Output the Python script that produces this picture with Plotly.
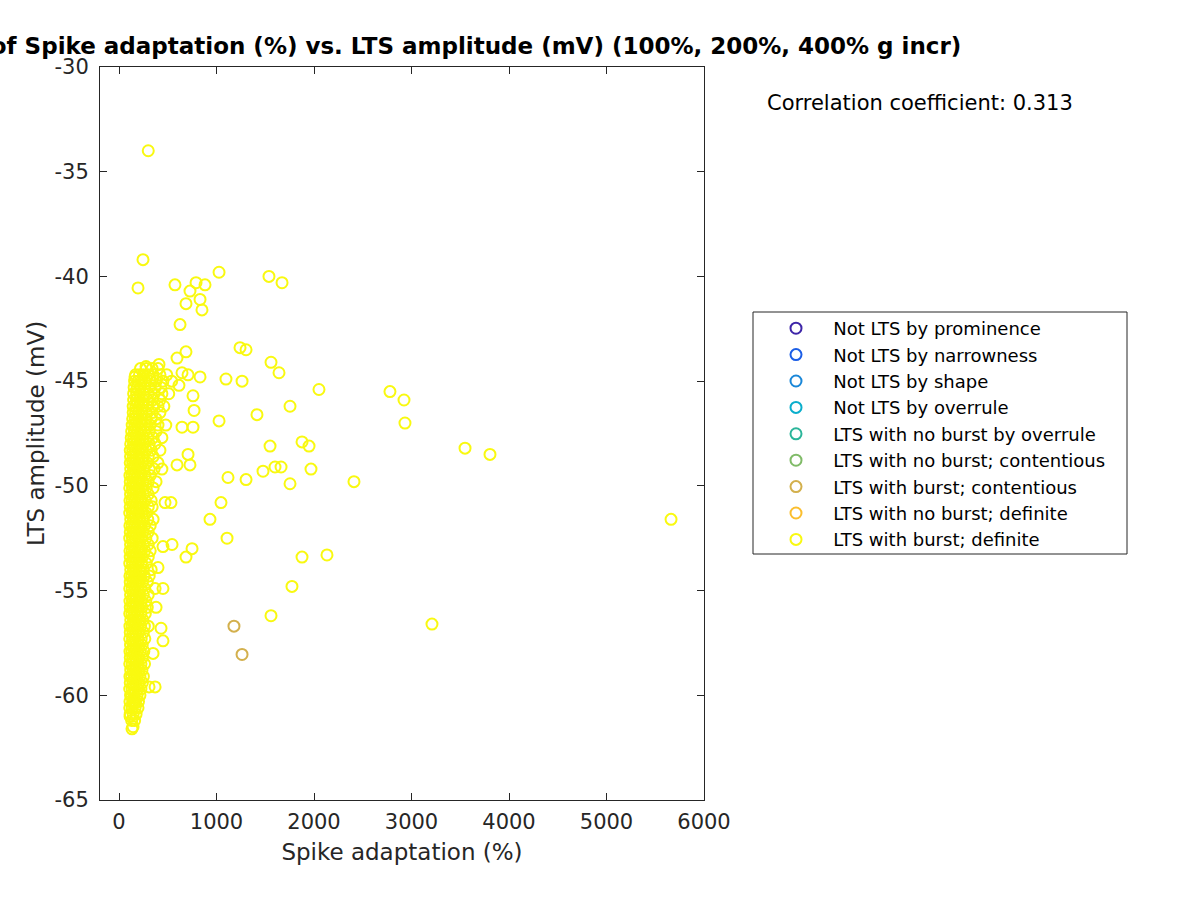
import plotly.graph_objects as go

# ---------------- data ----------------
categories = [
    "Not LTS by prominence",
    "Not LTS by narrowness",
    "Not LTS by shape",
    "Not LTS by overrule",
    "LTS with no burst by overrule",
    "LTS with no burst; contentious",
    "LTS with burst; contentious",
    "LTS with no burst; definite",
    "LTS with burst; definite",
]
category_colors = [
    "#3e26a8", "#1c5ee6", "#1a87d8", "#0aaecc", "#2bb59a",
    "#80bb68", "#d3b04d", "#fbbe2e", "#f9f910",
]

# LTS with burst; contentious
contentious_burst_x = [1179, 1262]
contentious_burst_y = [-56.7, -58.05]

# LTS with burst; definite -- scattered outliers
outlier_x = [300, 246, 195, 574, 1026, 790, 882, 728, 687, 831, 851, 626, 687, 595,
             1241, 1303, 1538, 1672, 1559, 1641, 1262, 1097, 2051, 2779, 2923, 1754,
             1415, 1026, 2933, 1549, 1877, 1949, 1969, 1600, 1662, 1477, 1118, 1303,
             1754, 2410, 3549, 3805, 1046, 933, 5662, 1108, 544, 749, 687, 1877, 2133,
             1774, 3210, 1559]
outlier_y = [-34.0, -39.2, -40.55, -40.4, -39.8, -40.3, -40.4, -40.7, -41.3, -41.1,
             -41.6, -42.3, -43.6, -43.9, -43.4, -43.5, -40.0, -40.3, -44.1, -44.6,
             -45.0, -44.9, -45.4, -45.5, -45.9, -46.2, -46.6, -46.9, -47.0, -48.1,
             -47.9, -48.1, -49.2, -49.1, -49.1, -49.3, -49.6, -49.7, -49.9, -49.8,
             -48.2, -48.5, -50.8, -51.6, -51.6, -52.5, -52.8, -53.0, -53.4, -53.4,
             -53.3, -54.8, -56.6, -56.2]

# points just outside the dense band
near_x = [831, 708, 646, 615, 759, 770, 646, 759, 708, 728, 595, 533, 472, 451,
          400, 451, 370, 380, 431, 451, 349, 370, 308, 410, 277, 164, 133, 144, 113]
near_y = [-44.8, -44.7, -44.6, -45.2, -45.7, -46.4, -47.2, -47.2, -48.5, -49.0,
          -49.0, -50.8, -50.8, -52.9, -53.9, -54.9, -54.9, -55.8, -56.8, -57.4,
          -58.0, -59.6, -59.6, -44.2, -44.3, -44.8, -61.6, -61.5, -61.0]

# dense band: amplitude levels and the adaptation values read at each level
band_levels = [
    -61.2, -60.9, -60.6, -60.3, -60.0, -59.7, -59.4, -59.1, -58.8, -58.5,
    -58.2, -57.9, -57.6, -57.3, -57.0, -56.7, -56.4, -56.1, -55.8, -55.5,
    -55.2, -54.9, -54.6, -54.3, -54.0, -53.7, -53.4, -53.1, -52.8, -52.5,
    -52.2, -51.9, -51.6, -51.3, -51.0, -50.7, -50.4, -50.1, -49.8, -49.5,
    -49.2, -48.9, -48.6, -48.3, -48.0, -47.7, -47.4, -47.1, -46.8, -46.5,
    -46.2, -45.9, -45.6, -45.3, -45.0, -44.7, -44.4,
]
band_x_at_level = [
    [130, 160],
    [115, 145, 175],
    [110, 135, 165, 195],
    [112, 140, 150, 170, 200],
    [118, 128, 155, 185, 215],
    [110, 135, 160, 190, 225],
    [115, 142, 170, 200, 240],
    [112, 130, 158, 185, 215, 250],
    [120, 145, 172, 205, 235],
    [110, 135, 165, 195, 225, 262],
    [115, 140, 168, 200, 240],
    [112, 132, 160, 190, 220, 255],
    [118, 145, 175, 205, 238],
    [110, 138, 162, 195, 228, 265],
    [115, 142, 170, 200, 250],
    [112, 135, 160, 188, 222, 260, 300],
    [120, 148, 178, 210, 245],
    [110, 132, 158, 190, 225, 270],
    [115, 140, 168, 200, 235, 290],
    [112, 138, 165, 195, 230, 275],
    [118, 145, 172, 205, 250, 300],
    [110, 135, 162, 192, 225, 265],
    [115, 142, 170, 200, 240, 290],
    [112, 132, 160, 188, 220, 260, 310],
    [120, 148, 175, 210, 250, 330],
    [110, 138, 165, 195, 230, 280],
    [115, 142, 170, 202, 240, 300],
    [112, 135, 160, 190, 225, 265, 320],
    [118, 145, 175, 208, 250, 300],
    [110, 138, 165, 195, 230, 275, 340],
    [115, 142, 172, 205, 245, 300],
    [112, 135, 160, 190, 222, 262, 320],
    [120, 148, 178, 210, 250, 295, 350],
    [110, 138, 165, 198, 235, 280],
    [115, 142, 170, 200, 240, 300, 340],
    [112, 135, 162, 192, 228, 270, 330],
    [118, 145, 175, 210, 250, 300],
    [110, 138, 165, 195, 232, 280, 350],
    [115, 142, 172, 205, 245, 300, 380],
    [112, 135, 160, 190, 225, 265, 320],
    [120, 148, 178, 210, 255, 310, 360, 440],
    [115, 140, 168, 200, 240, 290, 400],
    [118, 145, 175, 208, 250, 300, 350],
    [115, 140, 168, 200, 238, 280, 330, 420],
    [120, 148, 178, 212, 255, 310, 370],
    [125, 150, 180, 215, 250, 295, 350, 440],
    [130, 158, 188, 222, 260, 310, 380],
    [135, 162, 192, 228, 270, 320, 400, 480],
    [140, 165, 195, 230, 275, 330, 380],
    [145, 170, 200, 235, 280, 340, 420],
    [145, 172, 205, 240, 290, 350, 400, 460],
    [150, 178, 210, 248, 295, 345, 420],
    [150, 180, 215, 255, 300, 360, 440, 510],
    [155, 185, 220, 262, 310, 370, 430],
    [160, 195, 230, 270, 320, 380, 450, 540],
    [170, 210, 250, 300, 350, 420, 490],
    [220, 280, 340, 400],
]

x_tick_vals = [0, 1000, 2000, 3000, 4000, 5000, 6000]
x_tick_text = ["0", "1000", "2000", "3000", "4000", "5000", "6000"]
y_tick_vals = [-65, -60, -55, -50, -45, -40, -35, -30]
y_tick_text = ["-65", "-60", "-55", "-50", "-45", "-40", "-35", "-30"]

correlation_text = "Correlation coefficient: 0.313"
title_text = "Scatter plot of Spike adaptation (%) vs. LTS amplitude (mV) (100%, 200%, 400% g incr)"

# ---------------- assemble ----------------
band_x, band_y = [], []
for lvl, xs in zip(band_levels, band_x_at_level):
    band_x.extend(xs)
    band_y.extend([lvl] * len(xs))

definite_burst_x = band_x + near_x + outlier_x
definite_burst_y = band_y + near_y + outlier_y

series = {
    "LTS with burst; contentious": (contentious_burst_x, contentious_burst_y),
    "LTS with burst; definite": (definite_burst_x, definite_burst_y),
}

FONT = "DejaVu Sans"
fig = go.Figure()
for i, (name, color) in enumerate(zip(categories, category_colors)):
    xs, ys = series.get(name, ([None], [None]))
    fig.add_trace(go.Scatter(
        x=xs, y=ys, mode="markers", name="   " + name,
        marker=dict(symbol="circle-open", size=11, color=color,
                    line=dict(width=2, color=color)),
        hoverinfo="skip",
    ))

W, H = 1200, 900
L, R, T, B = 100, 496, 67, 100
pw, ph = W - L - R, H - T - B


def px_x(p):
    return (p - L) / pw


def px_y(p):
    return 1 - (p - T) / ph


axis_common = dict(
    showline=True, linecolor="#262626", linewidth=1, mirror="ticks",
    ticks="inside", ticklen=7, tickcolor="#262626", tickwidth=1,
    showgrid=False, zeroline=False,
    tickfont=dict(family=FONT, size=21, color="#262626"),
)

fig.update_layout(
    width=W, height=H,
    margin=dict(l=L, r=R, t=T, b=B, pad=0),
    paper_bgcolor="white", plot_bgcolor="white",
    font=dict(family=FONT, color="#262626"),
    xaxis=dict(range=[-195, 6000], tickvals=x_tick_vals, ticktext=x_tick_text,
               ticklabelstandoff=3,
               title=dict(text="Spike adaptation (%)",
                          font=dict(family=FONT, size=23, color="#262626"),
                          standoff=10),
               **axis_common),
    yaxis=dict(range=[-65, -30], tickvals=y_tick_vals, ticktext=y_tick_text,
               ticklabelstandoff=6,
               title=dict(text="LTS amplitude (mV)",
                          font=dict(family=FONT, size=23, color="#262626"),
                          standoff=3),
               **axis_common),
    showlegend=True,
    legend=dict(
        x=px_x(776), y=px_y(310), xanchor="left", yanchor="top",
        bgcolor="rgba(0,0,0,0)", borderwidth=0,
        font=dict(family=FONT, size=18, color="#000000"),
        tracegroupgap=0, itemclick=False,
    ),
    shapes=[dict(type="rect", xref="paper", yref="paper",
                 x0=px_x(753), x1=px_x(1127), y0=px_y(554), y1=px_y(312),
                 line=dict(color="#262626", width=1), fillcolor="rgba(0,0,0,0)")],
    annotations=[
        dict(text=correlation_text, xref="paper", yref="paper",
             x=px_x(765), y=px_y(103), xanchor="left", yanchor="middle",
             showarrow=False, font=dict(family=FONT, size=21, color="#000000")),
        dict(text="<b>" + title_text + "</b>", xref="paper", yref="paper",
             x=px_x(963), y=px_y(46), xanchor="right", yanchor="middle",
             showarrow=False, font=dict(family=FONT, size=23, color="#000000")),
    ],
)

fig.write_html("out.html", config={"displayModeBar": False},
               post_script="document.body.style.margin='0px';")
